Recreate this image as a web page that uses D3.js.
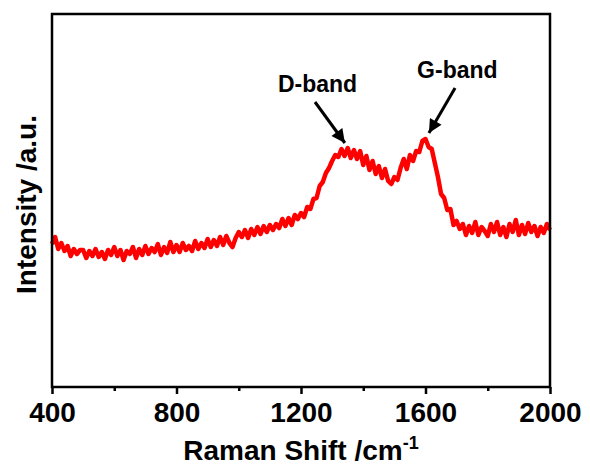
<!DOCTYPE html>
<html>
<head>
<meta charset="utf-8">
<script src="https://cdn.jsdelivr.net/npm/d3@7"></script>
<style>
  body { margin: 0; background: #fff; }
  svg { display: block; }
</style>
</head>
<body>
<svg id="chart" width="590" height="468"></svg>
<script>
// raman shift, one reading every 10 cm-1 from 400 to 2000
var shiftStart = 400, shiftStep = 10;
var intensity = [
  143,150,138,144,136,141,131,138,133,137,
  137,129,136,131,138,130,135,128,137,132,
  140,131,137,127,136,133,140,129,138,132,
  141,133,139,135,143,132,140,134,145,135,
  142,135,144,137,141,136,146,138,144,139,
  148,140,147,141,150,142,151,144,140,149,
  155,150,157,149,158,152,160,153,161,155,
  162,157,163,159,168,161,169,162,172,168,
  174,170,180,178,188,189,201,205,214,219,
  226,232,230,238,231,239,229,237,228,236,
  222,231,217,226,213,221,209,218,206,203,
  210,207,219,228,218,232,226,236,235,246,
  248,240,238,224,210,193,189,177,178,162,
  166,158,163,152,161,154,165,152,160,156,
  151,163,155,165,152,160,150,163,155,167,
  152,162,153,164,155,161,151,160,154,163,
  157
];
var majorTicks = [400, 800, 1200, 1600, 2000];
var minorTicks = [600, 1000, 1400, 1800];
var bandNames = ["D-band", "G-band"];
var bandLabelAt = [[1126, 295], [1573, 309]];
var bandArrowFrom = [[1245, 285], [1695, 299]];
var bandArrowTo = [[1341, 244], [1611, 254]];

(function(){

var FONT = "'Liberation Sans', Arial, sans-serif";
var plotLeft = 52, plotRight = 550, plotTop = 14, plotBottom = 387;

var svg = d3.select("#chart");
var x = d3.scaleLinear().domain([400, 2000]).range([plotLeft, plotRight]);
var y = d3.scaleLinear().domain([0, 373]).range([plotBottom, plotTop]);

var points = intensity.map(function(v, i) { return [shiftStart + i * shiftStep, v]; });

var line = d3.line()
  .x(function(d) { return x(d[0]); })
  .y(function(d) { return y(d[1]); });

svg.append("path")
  .datum(points)
  .attr("d", line)
  .attr("fill", "none")
  .attr("stroke", "#ff0000")
  .attr("stroke-width", 4.5)
  .attr("stroke-linejoin", "round");

// frame
svg.append("rect")
  .attr("x", plotLeft).attr("y", plotTop)
  .attr("width", plotRight - plotLeft).attr("height", plotBottom - plotTop)
  .attr("fill", "none").attr("stroke", "#000").attr("stroke-width", 2.5);

var xAxis = d3.axisBottom(x).tickValues(majorTicks).tickSize(7).tickPadding(8)
  .tickFormat(d3.format("d"));
var gx = svg.append("g").attr("transform", "translate(0," + plotBottom + ")").call(xAxis);
gx.select(".domain").remove();
gx.selectAll(".tick line").attr("stroke-width", 2.5);
gx.selectAll(".tick text")
  .attr("font-family", FONT).attr("font-size", "28px").attr("font-weight", "bold")
  .attr("fill", "#000");

var gxm = svg.append("g").attr("transform", "translate(0," + plotBottom + ")")
  .call(d3.axisBottom(x).tickValues(minorTicks).tickSize(4).tickFormat(""));
gxm.select(".domain").remove();
gxm.selectAll(".tick line").attr("stroke-width", 2.5);

// axis titles
var xt = svg.append("text")
  .attr("x", (plotLeft + plotRight) / 2).attr("y", 460)
  .attr("text-anchor", "middle")
  .attr("font-family", FONT).attr("font-size", "28px").attr("font-weight", "bold");
xt.append("tspan").text("Raman Shift /cm");
xt.append("tspan").attr("dy", -11).attr("font-size", "18px").text("-1");

svg.append("text")
  .attr("transform", "translate(36," + ((plotTop + plotBottom) / 2 + 4) + ") rotate(-90)")
  .attr("text-anchor", "middle")
  .attr("font-family", FONT).attr("font-size", "28px").attr("font-weight", "bold")
  .text("Intensity /a.u.");

// band annotations
svg.append("defs").append("marker")
  .attr("id", "arrow").attr("viewBox", "0 0 10 10")
  .attr("refX", 10).attr("refY", 5)
  .attr("markerWidth", 5).attr("markerHeight", 4.5)
  .attr("markerUnits", "strokeWidth")
  .attr("orient", "auto")
  .append("path").attr("d", "M0,0L10,5L0,10Z").attr("fill", "#000");

for(var i=0;i<bandNames.length;i++) {
  svg.append("text")
    .attr("x", x(bandLabelAt[i][0])).attr("y", y(bandLabelAt[i][1]))
    .attr("font-family", FONT).attr("font-size", "23px").attr("font-weight", "bold")
    .text(bandNames[i]);
  svg.append("line")
    .attr("x1", x(bandArrowFrom[i][0])).attr("y1", y(bandArrowFrom[i][1]))
    .attr("x2", x(bandArrowTo[i][0])).attr("y2", y(bandArrowTo[i][1]))
    .attr("stroke", "#000").attr("stroke-width", 3)
    .attr("marker-end", "url(#arrow)");
}

})();
</script>
</body>
</html>
